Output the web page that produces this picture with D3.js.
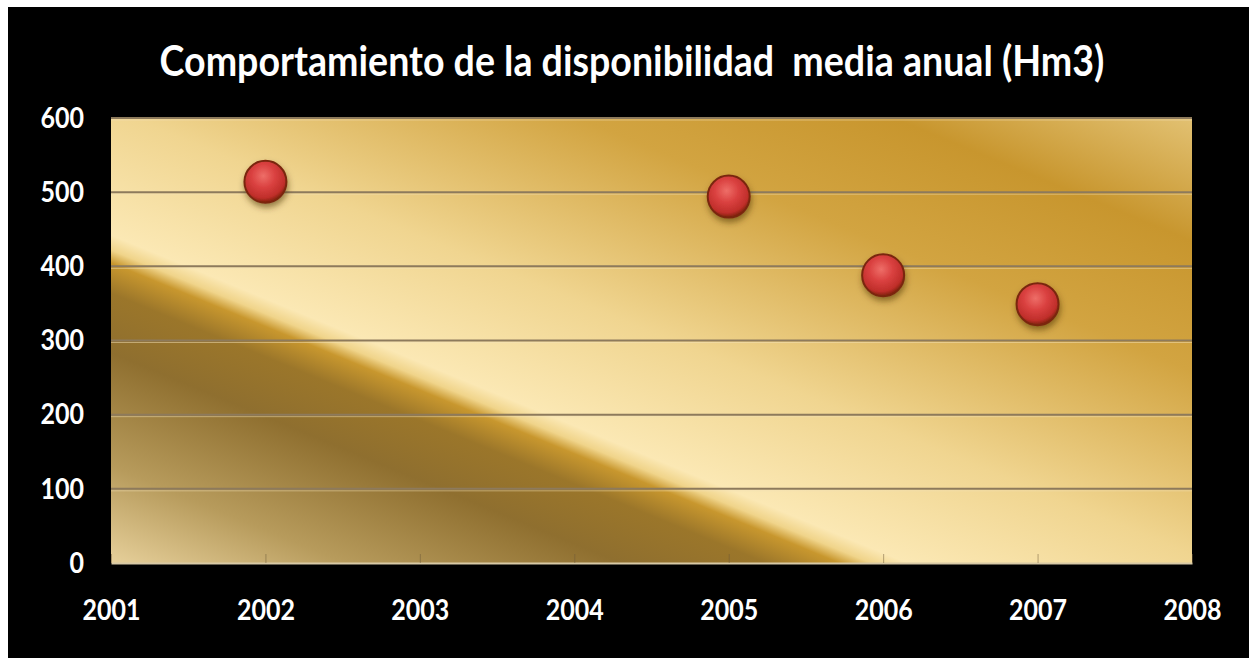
<!DOCTYPE html>
<html>
<head>
<meta charset="utf-8">
<script src="https://cdn.jsdelivr.net/npm/d3@7"></script>
<style>
  html, body { margin: 0; padding: 0; background: #fff; }
  svg { display: block; }
</style>
</head>
<body>
<svg id="chart" width="1249" height="658"></svg>
<script>
const titleText = "Comportamiento de la disponibilidad  media anual (Hm3)";
const years = [2002, 2005, 2006, 2007];
const values = [514, 494, 388, 349];
const xTicks = [2001, 2002, 2003, 2004, 2005, 2006, 2007, 2008];
const yTicks = [0, 100, 200, 300, 400, 500, 600];

const svg = d3.select("#chart");
const margin = {left: 111, right: 57, top: 118, bottom: 95};
const W = 1249, H = 658;

const x = d3.scaleLinear().domain([2001, 2008]).range([margin.left, W - margin.right]);
const y = d3.scaleLinear().domain([0, 600]).range([H - margin.bottom, margin.top]);

// black slide background
svg.append("rect").attr("x", 8).attr("y", 7).attr("width", W - 8).attr("height", H - 7).attr("fill", "#000");

const defs = svg.append("defs");

// gold background: gradient running across a diagonal fold
var p0 = [x(2001), y(422)], p1 = [x(2005.92), y(0)];
var dx = p1[0] - p0[0], dy = p1[1] - p0[1];
var len = Math.sqrt(dx * dx + dy * dy);
var n = [dy / len, -dx / len];
var dMin = -300, dMax = 560;
var gold = defs.append("linearGradient").attr("id", "goldBg")
  .attr("gradientUnits", "userSpaceOnUse")
  .attr("x1", p0[0] + n[0] * dMin).attr("y1", p0[1] + n[1] * dMin)
  .attr("x2", p0[0] + n[0] * dMax).attr("y2", p0[1] + n[1] * dMax);
[[-300, "#ecd6a2"], [-200, "#b79b5c"], [-95, "#8f6f2f"], [-40, "#9b762a"], [-12, "#c8972e"],
 [0, "#f0d48a"], [14, "#fbe8b4"], [130, "#f0d590"], [300, "#d2a441"], [420, "#c8962e"], [560, "#e8cb82"]]
  .forEach(function (s) {
    gold.append("stop").attr("offset", (s[0] - dMin) / (dMax - dMin)).attr("stop-color", s[1]);
  });

var ball = defs.append("radialGradient").attr("id", "ball")
  .attr("cx", "45%").attr("cy", "36%").attr("r", "62%");
ball.append("stop").attr("offset", 0).attr("stop-color", "#ee6e68");
ball.append("stop").attr("offset", 0.45).attr("stop-color", "#da4140");
ball.append("stop").attr("offset", 0.85).attr("stop-color", "#bf2e2a");
ball.append("stop").attr("offset", 1).attr("stop-color", "#86240f");

var shadow = defs.append("filter").attr("id", "shadow").attr("x", "-50%").attr("y", "-50%").attr("width", "200%").attr("height", "200%");
shadow.append("feDropShadow").attr("dx", 1).attr("dy", 4).attr("stdDeviation", 3)
  .attr("flood-color", "#4a3000").attr("flood-opacity", 0.55);

// plot area
svg.append("rect")
  .attr("x", x(2001)).attr("y", y(600))
  .attr("width", x(2008) - x(2001)).attr("height", y(0) - y(600))
  .attr("fill", "url(#goldBg)");

// gridlines
svg.append("g").selectAll("line.light").data(yTicks.filter(d => d > 0)).join("line")
  .attr("x1", x(2001)).attr("x2", x(2008))
  .attr("y1", d => y(d) + 2).attr("y2", d => y(d) + 2)
  .attr("stroke", "#f3e2b8").attr("stroke-opacity", 0.5).attr("stroke-width", 1);
svg.append("g").selectAll("line").data(yTicks.filter(d => d > 0)).join("line")
  .attr("x1", x(2001)).attr("x2", x(2008))
  .attr("y1", d => y(d)).attr("y2", d => y(d))
  .attr("stroke", "#8d7a5c").attr("stroke-width", 2);

// x axis with inside ticks
var xAxis = svg.append("g").attr("transform", "translate(0," + y(0) + ")")
  .call(d3.axisBottom(x).tickValues(xTicks).tickFormat(d3.format("d")).tickSizeInner(-9).tickSizeOuter(0).tickPadding(36));
xAxis.select(".domain").attr("stroke", "#d8c9a6").attr("stroke-width", 2);
xAxis.selectAll(".tick line").attr("stroke", "#6d5a3a").attr("stroke-opacity", 0.5).attr("stroke-width", 1);
xAxis.selectAll(".tick text")
  .attr("fill", "#fff").attr("font-family", "Lato, 'Open Sans', sans-serif")
  .attr("font-weight", "bold").attr("font-size", 29)
  .attr("textLength", 58).attr("lengthAdjust", "spacingAndGlyphs");

// y axis labels
var yAxis = svg.append("g").attr("transform", "translate(" + x(2001) + ",0)")
  .call(d3.axisLeft(y).tickValues(yTicks).tickSize(0).tickPadding(27));
yAxis.select(".domain").remove();
yAxis.selectAll(".tick text")
  .attr("fill", "#fff").attr("font-family", "Lato, 'Open Sans', sans-serif")
  .attr("font-weight", "bold").attr("font-size", 29)
  .attr("textLength", d => String(d).length * 14.5).attr("lengthAdjust", "spacingAndGlyphs");

// title: size it to the wanted width, then stretch it a bit vertically
var title = svg.append("text")
  .attr("x", 0).attr("y", 0)
  .attr("text-anchor", "middle")
  .attr("fill", "#fff")
  .attr("font-family", "Lato, 'Open Sans', sans-serif")
  .attr("font-weight", "bold").attr("font-size", 40)
  .style("white-space", "pre")
  .text(titleText);
var natural = title.node().getComputedTextLength();
var titleSize = 40 * 945 / natural;
title.attr("font-size", titleSize)
  .attr("transform", "translate(632,76) scale(1," + (42 / titleSize).toFixed(3) + ")");

// markers
svg.append("g").selectAll("circle").data(years).join("circle")
  .attr("cx", d => x(d))
  .attr("cy", (d, i) => y(values[i]))
  .attr("r", 21)
  .attr("fill", "url(#ball)")
  .attr("stroke", "#7a2610").attr("stroke-width", 2)
  .attr("filter", "url(#shadow)");
</script>
</body>
</html>
